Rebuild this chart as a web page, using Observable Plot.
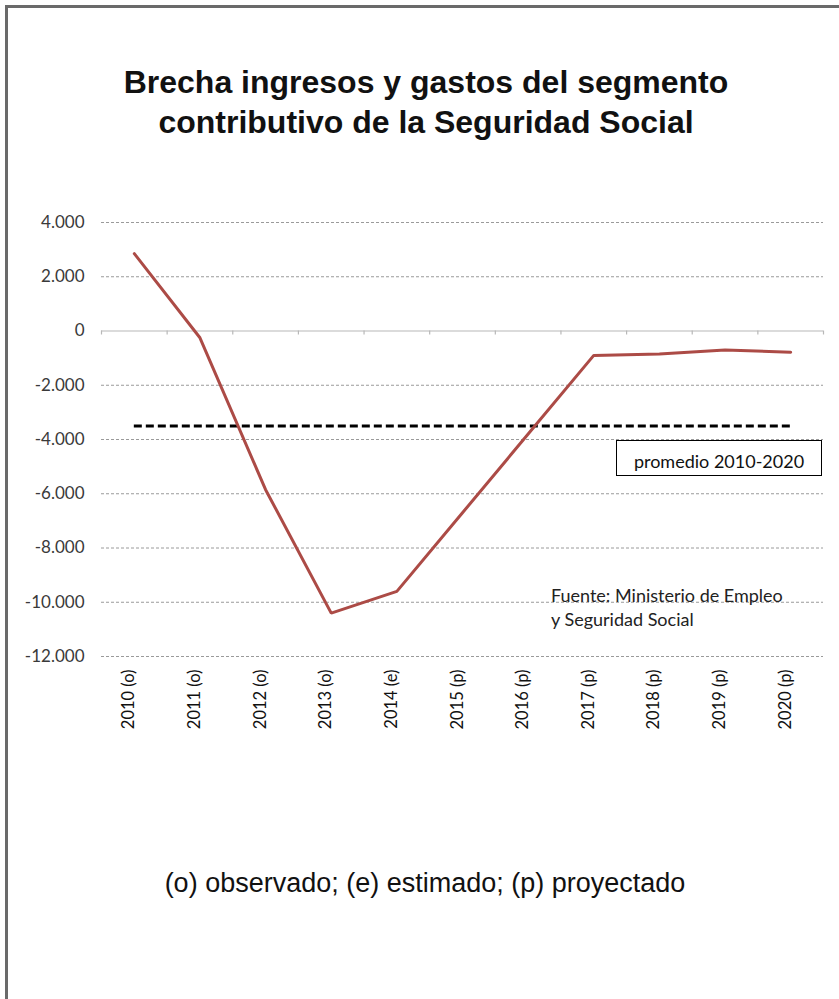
<!DOCTYPE html>
<html>
<head>
<meta charset="utf-8">
<script src="https://cdn.jsdelivr.net/npm/d3@7"></script>
<script src="https://cdn.jsdelivr.net/npm/@observablehq/plot@0.6"></script>
<style>
  html, body { margin: 0; padding: 0; background: #fff; }
  #page { position: relative; width: 839px; height: 999px; overflow: hidden; background: #fff; }
  #frame { position: absolute; left: 5px; top: 5px; right: -10px; bottom: -10px;
           border-left: 3px solid #6a6a6a; border-top: 3px solid #6a6a6a; }
  #title { position: absolute; left: 0; top: 62px; width: 852px; text-align: center;
           font-family: "Liberation Sans", Arial, sans-serif; font-weight: bold; font-size: 32px;
           line-height: 40px; color: #111; }
  #chart { position: absolute; left: 0; top: 200px; }
  #legend { position: absolute; left: 616px; top: 440px; width: 204px; height: 34px;
            border: 1.6px solid #000; background: #fff; font-family: Lato, sans-serif;
            font-size: 18px; line-height: 40px; text-align: center; color: #111; }
  #fuente { position: absolute; left: 551px; top: 583px; font-family: Lato, sans-serif;
            font-size: 18px; line-height: 24px; color: #222; }
  #nota { position: absolute; left: 0; top: 866px; width: 850px; text-align: center;
          font-family: "Liberation Sans", Arial, sans-serif; font-size: 27px; line-height: 34px; color: #111; }
</style>
</head>
<body>
<div id="page">
  <div id="frame"></div>
  <div id="title">Brecha ingresos y gastos del segmento<br>contributivo de la Seguridad Social</div>
  <div id="chart"></div>
  <div id="legend"></div>
  <div id="fuente"></div>
  <div id="nota"></div>
</div>
<script>
const categorias = ["2010 (o)", "2011 (o)", "2012 (o)", "2013 (o)", "2014 (e)", "2015 (p)",
                    "2016 (p)", "2017 (p)", "2018 (p)", "2019 (p)", "2020 (p)"];
const brecha = [2850, -250, -5850, -10400, -9600, -6700, -3800, -900, -850, -700, -780];
const promedio = -3500;
const yTicks = [4000, 2000, 0, -2000, -4000, -6000, -8000, -10000, -12000];
const etiquetaPromedio = "promedio 2010-2020";
const fuente = ["Fuente: Ministerio de Empleo", "y Seguridad Social"];
const nota = "(o) observado; (e) estimado; (p) proyectado";

const locale = d3.formatLocale({decimal: ",", thousands: ".", grouping: [3], currency: ["", " €"], minus: "-"});
const fmt = locale.format(",");

const data = categorias.map((c, i) => ({i, c, v: brecha[i]}));
const bounds = d3.range(categorias.length + 1).map(i => i - 0.5);

const chart = Plot.plot({
  width: 839,
  height: 540,
  marginLeft: 101,
  marginRight: 16,
  marginTop: 22,
  marginBottom: 84,
  style: {fontFamily: "Lato, sans-serif", fontSize: "17px", background: "transparent"},
  x: {domain: [-0.5, categorias.length - 0.5], axis: null},
  y: {domain: [-12000, 4000], axis: null},
  marks: [
    Plot.ruleY(yTicks.filter(d => d !== 0), {stroke: "#9a9a9a", strokeWidth: 1, strokeDasharray: "3,2"}),
    Plot.ruleY([0], {stroke: "#b8b8b8", strokeWidth: 1.2}),
    Plot.ruleX(bounds, {y1: 0, y2: 0, insetBottom: -4, stroke: "#b8b8b8", strokeWidth: 1.2}),
    Plot.axisY({ticks: yTicks, tickSize: 0, tickPadding: 17, tickFormat: fmt, label: null,
                fill: "#3a3a3a", fontSize: 17}),
    Plot.ruleY([promedio], {x1: 0, x2: categorias.length - 1, stroke: "#000", strokeWidth: 3, strokeDasharray: "8,4"}),
    Plot.line(data, {x: "i", y: "v", stroke: "#AC4B46", strokeWidth: 3, strokeLinejoin: "miter"}),
    Plot.text(data, {x: "i", text: "c", frameAnchor: "bottom", rotate: -90, textAnchor: "end",
                     dy: 13, fill: "#111", fontSize: 16.5})
  ]
});
document.getElementById("chart").appendChild(chart);
document.getElementById("legend").textContent = etiquetaPromedio;
document.getElementById("fuente").innerHTML = fuente.join("<br>");
document.getElementById("nota").textContent = nota;
</script>
</body>
</html>
